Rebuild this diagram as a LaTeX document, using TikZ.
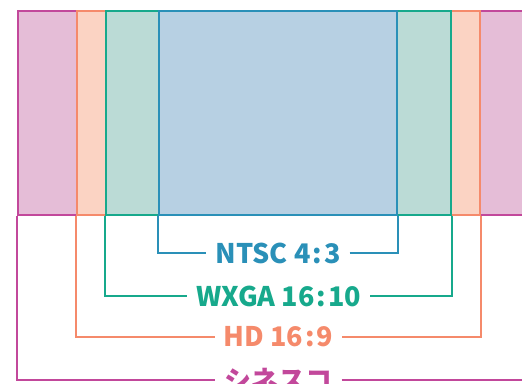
\documentclass[tikz,border=0pt]{standalone}
\usepackage{fontspec}
\setmainfont{Noto Sans CJK JP}
\usetikzlibrary{positioning}
\definecolor{scopeline}{HTML}{C2489B}
\definecolor{scopefill}{HTML}{E5BDD7}
\definecolor{hdline}{HTML}{F58A6B}
\definecolor{hdfill}{HTML}{FBD3C3}
\definecolor{wxgaline}{HTML}{17A98C}
\definecolor{wxgafill}{HTML}{BBDBD6}
\definecolor{ntscline}{HTML}{2A90B8}
\definecolor{ntscfill}{HTML}{B7D0E3}
\newcommand{\ratiocolon}{\kern2pt:\kern2pt}

\begin{document}
\begin{tikzpicture}[
x=1pt, y=-1pt,
frame/.style={
rectangle,
draw=#1line,
fill=#1fill,
line width=2.3pt,
inner sep=0pt,
minimum height=204pt
},
tag/.style={
text=#1line,
inner xsep=9pt,
inner ysep=0pt,
font=\fontsize{27}{30}\selectfont\bfseries
},
bracket/.style={
draw=#1line,
line width=2.3pt
}
]
\useasboundingbox (0,0) rectangle (522,383);

% frames, widest first
\node[frame=scope, minimum width=521pt] (scope) at (278.5,113) {};
\node[frame=hd, minimum width=403pt] (hd) at (278.5,113) {};
\node[frame=wxga, minimum width=345pt] (wxga) at (278.5,113) {};
\node[frame=ntsc, minimum width=238pt] (ntsc) at (278,113) {};

% labels
\node[tag=ntsc] (ntsctag) at (278,253) {NTSC 4\ratiocolon 3};
\node[tag=wxga] (wxgatag) at (278.5,296) {WXGA 16\ratiocolon 10};
\node[tag=hd] (hdtag) at (278.5,337) {HD 16\ratiocolon 9};
\node[tag=scope] (scopetag) at (278.5,380) {シネスコ};

% brackets
\draw[bracket=ntsc] (ntsc.south west) |- (ntsctag.west);
\draw[bracket=ntsc] (ntsctag.east) -| (ntsc.south east);
\draw[bracket=wxga] (wxga.south west) |- (wxgatag.west);
\draw[bracket=wxga] (wxgatag.east) -| (wxga.south east);
\draw[bracket=hd] (hd.south west) |- (hdtag.west);
\draw[bracket=hd] (hdtag.east) -| (hd.south east);
\draw[bracket=scope] (scope.south west) |- (scopetag.west);
\draw[bracket=scope] (scopetag.east) -| (scope.south east);

\end{tikzpicture}
\end{document}
